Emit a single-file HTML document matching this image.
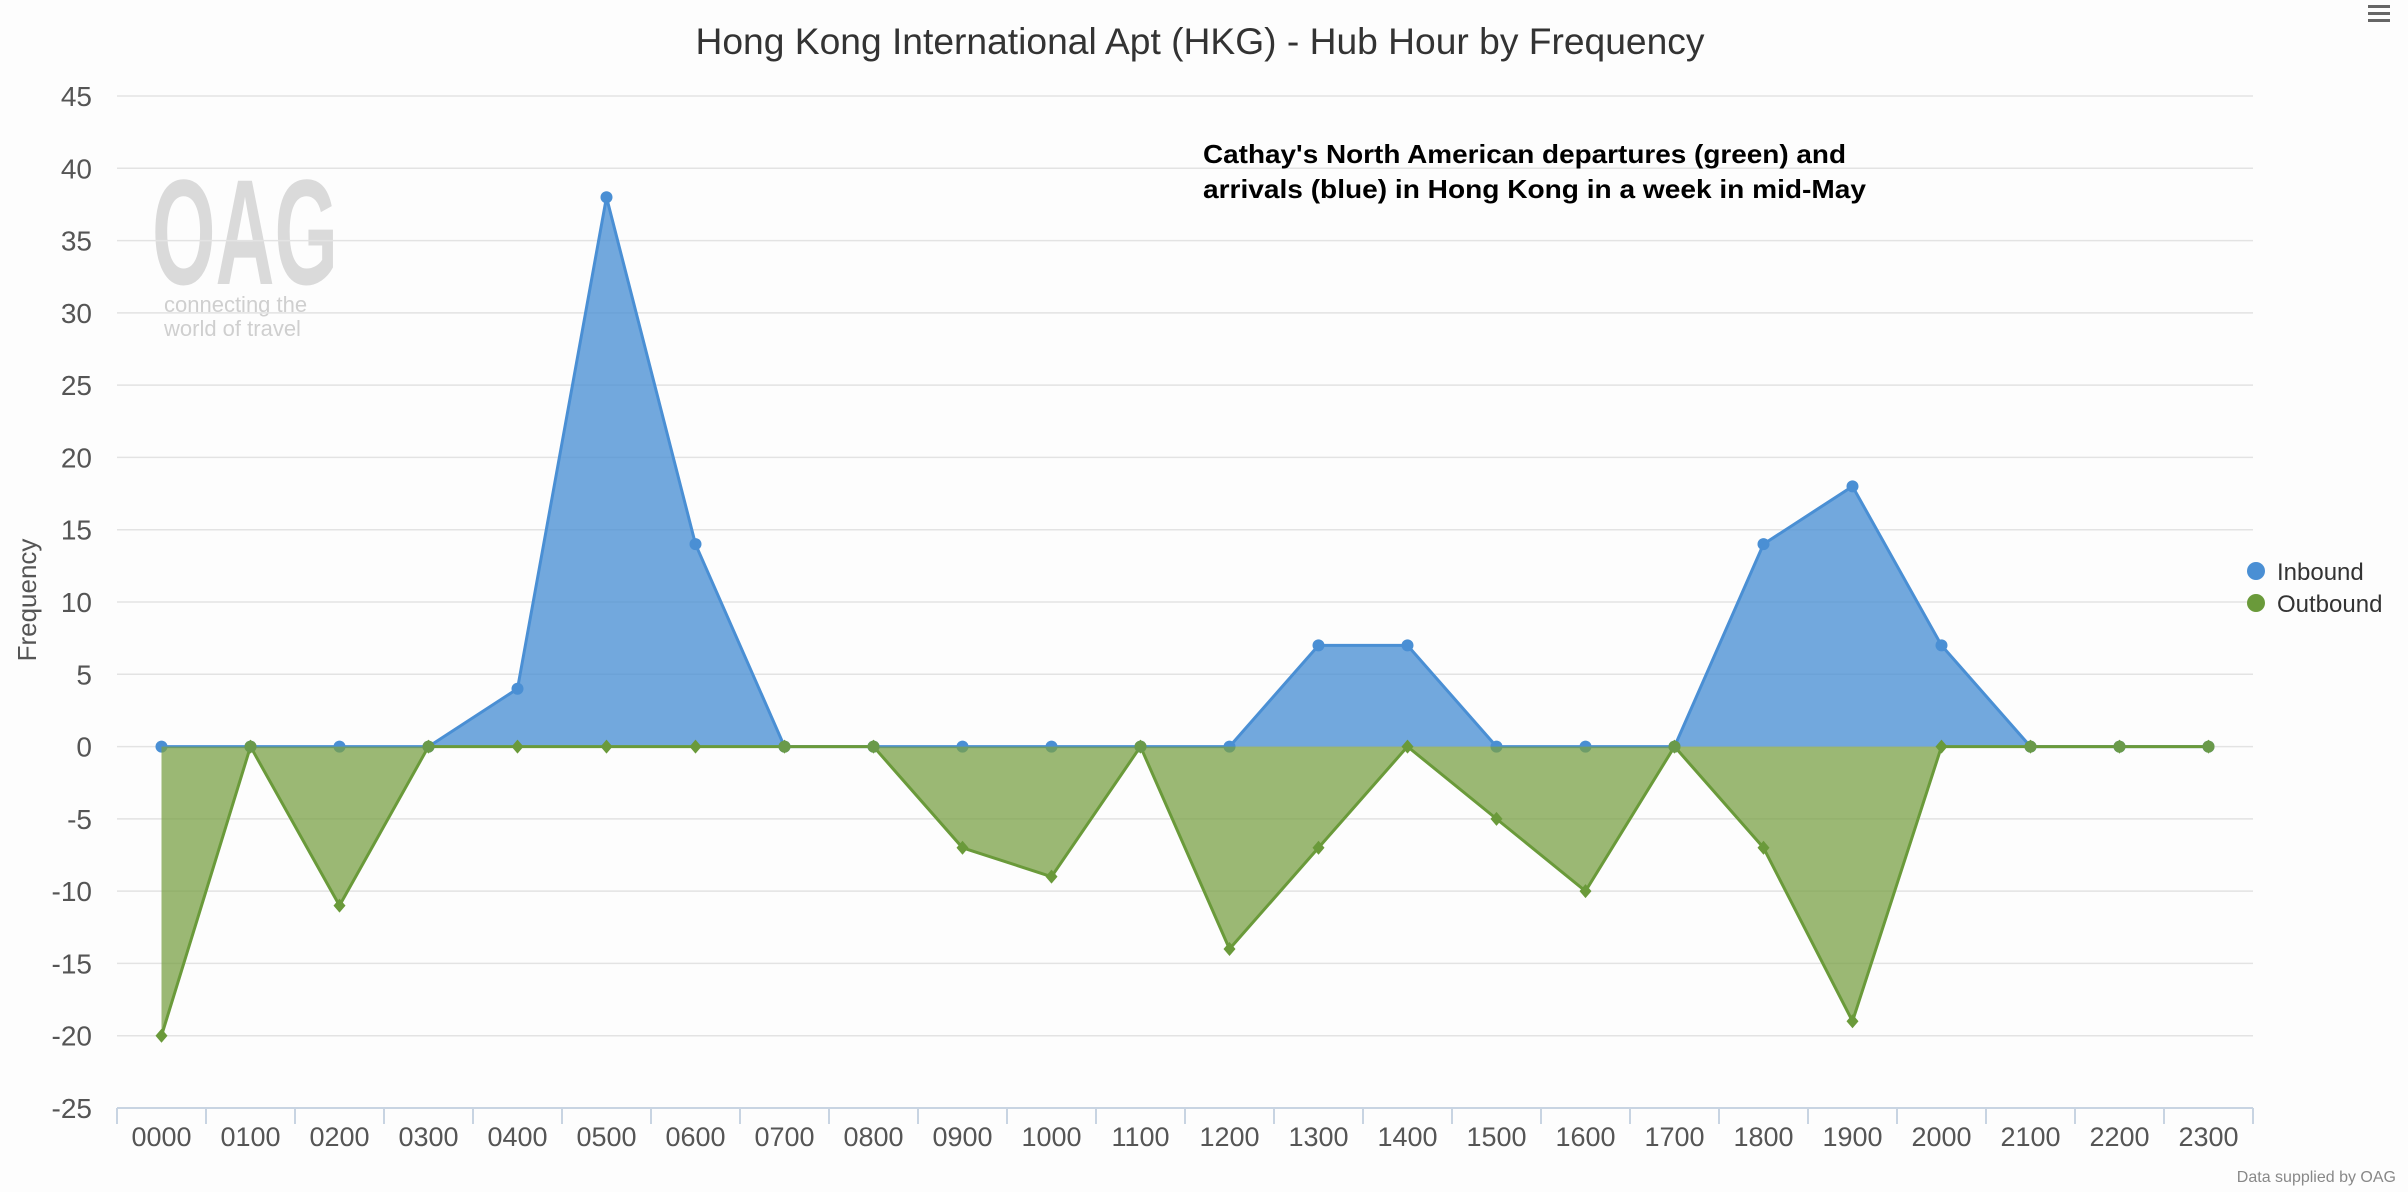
<!DOCTYPE html>
<html><head><meta charset="utf-8"><style>
body{margin:0;background:#fdfdfd;font-family:"Liberation Sans",sans-serif}
svg{display:block}
</style></head><body>
<svg id="c" width="2408" height="1192" xmlns="http://www.w3.org/2000/svg">
<rect width="2408" height="1192" fill="#fdfdfd"/>
<text x="1200" y="54" text-anchor="middle" font-size="37" fill="#333" textLength="1009" lengthAdjust="spacingAndGlyphs">Hong Kong International Apt (HKG) - Hub Hour by Frequency</text>
<g>
<text x="152" y="284" font-size="150" font-weight="bold" fill="#dadada" textLength="186" lengthAdjust="spacingAndGlyphs">OAG</text>
<text x="164" y="312" font-size="22" fill="#cfcfcf">connecting the</text>
<text x="164" y="336" font-size="22" fill="#cfcfcf">world of travel</text>
</g>
<g id="grid"></g>
<g id="series"></g>
<text x="1203" y="163" font-size="26" font-weight="bold" fill="#000" textLength="643" lengthAdjust="spacingAndGlyphs">Cathay's North American departures (green) and</text>
<text x="1203" y="198" font-size="26" font-weight="bold" fill="#000" textLength="663" lengthAdjust="spacingAndGlyphs">arrivals (blue) in Hong Kong in a week in mid-May</text>
<text transform="translate(36,600) rotate(-90)" text-anchor="middle" font-size="26" fill="#555">Frequency</text>
<g><circle cx="2256" cy="571" r="9" fill="#4a8fd4"/><text x="2277" y="580" font-size="24" fill="#333">Inbound</text></g>
<g><circle cx="2256" cy="603" r="9" fill="#6a9a3a"/><text x="2277" y="612" font-size="24" fill="#333">Outbound</text></g>
<g><rect x="2368" y="5" width="22" height="3" fill="#666"/><rect x="2368" y="12" width="22" height="3" fill="#666"/><rect x="2368" y="19" width="22" height="3" fill="#666"/></g>
<text x="2396" y="1182" text-anchor="end" font-size="16" fill="#888">Data supplied by OAG</text>
</svg>
<script>
const categories=["0000","0100","0200","0300","0400","0500","0600","0700","0800","0900","1000","1100","1200","1300","1400","1500","1600","1700","1800","1900","2000","2100","2200","2300"];
const inbound=[0,0,0,0,4,38,14,0,0,0,0,0,0,7,7,0,0,0,14,18,7,0,0,0];
const outbound=[-20,0,-11,0,0,0,0,0,0,-7,-9,0,-14,-7,0,-5,-10,0,-7,-19,0,0,0,0];
const yTicks=[45,40,35,30,25,20,15,10,5,0,-5,-10,-15,-20,-25];
const NS="http://www.w3.org/2000/svg";
const L=117,R=2253,T=96,B=1108,yMax=45,yMin=-25;
const cw=(R-L)/categories.length;
const X=i=>L+cw*(i+0.5);
const Y=v=>T+(yMax-v)/(yMax-yMin)*(B-T);
function mk(tag,attrs,parent){const e=document.createElementNS(NS,tag);for(const k in attrs)e.setAttribute(k,attrs[k]);parent.appendChild(e);return e;}
const grid=document.getElementById('grid'),ser=document.getElementById('series');
yTicks.forEach(v=>{
  if(v!==yMin){const g=mk('line',{x1:L,x2:R,y1:Y(v),y2:Y(v),stroke:'#e3e3e3','stroke-width':1.5},grid);
  
  }
  const t=mk('text',{x:92,y:Y(v)+10,'text-anchor':'end','font-size':28,fill:'#555'},grid);t.textContent=v;
  
  
});
const ax=mk('line',{x1:L,x2:R,y1:B,y2:B,stroke:'#c8d4e2','stroke-width':2},grid);


for(let i=0;i<=categories.length;i++){mk('line',{x1:L+cw*i,x2:L+cw*i,y1:B,y2:B+16,stroke:'#c8d4e2','stroke-width':2},grid);}
categories.forEach((c,i)=>{const t=mk('text',{x:X(i),y:B+38,'text-anchor':'middle','font-size':27,fill:'#555'},grid);t.textContent=c;
  
  });
function area(data,fill,stroke,name,marker){
  let d='M'+X(0)+','+Y(0);data.forEach((v,i)=>d+=' L'+X(i)+','+Y(v));d+=' L'+X(data.length-1)+','+Y(0)+'Z';
  const a=mk('path',{d:d,fill:fill,stroke:'none'},ser);
  
  
  const l=mk('polyline',{points:data.map((v,i)=>X(i)+','+Y(v)).join(' '),fill:'none',stroke:stroke,'stroke-width':3},ser);
  
  
  data.forEach((v,i)=>{let m;
    if(marker==='circle')m=mk('circle',{cx:X(i),cy:Y(v),r:6,fill:stroke},ser);
    else m=mk('path',{d:`M${X(i)},${Y(v)-7} L${X(i)+6},${Y(v)} L${X(i)},${Y(v)+7} L${X(i)-6},${Y(v)} Z`,fill:stroke},ser);
    
    });
}
area(inbound,'rgba(74,143,212,0.78)','#4a8fd4','inbound','circle');
area(outbound,'rgba(122,160,70,0.75)','#6a9a3a','outbound','diamond');
outbound.forEach((v,i)=>{if(v===0&&inbound[i]===0){const m=mk('circle',{cx:X(i),cy:Y(0),r:6,fill:'#6a9a4a'},ser);
  
  }});
</script>
</body></html>
